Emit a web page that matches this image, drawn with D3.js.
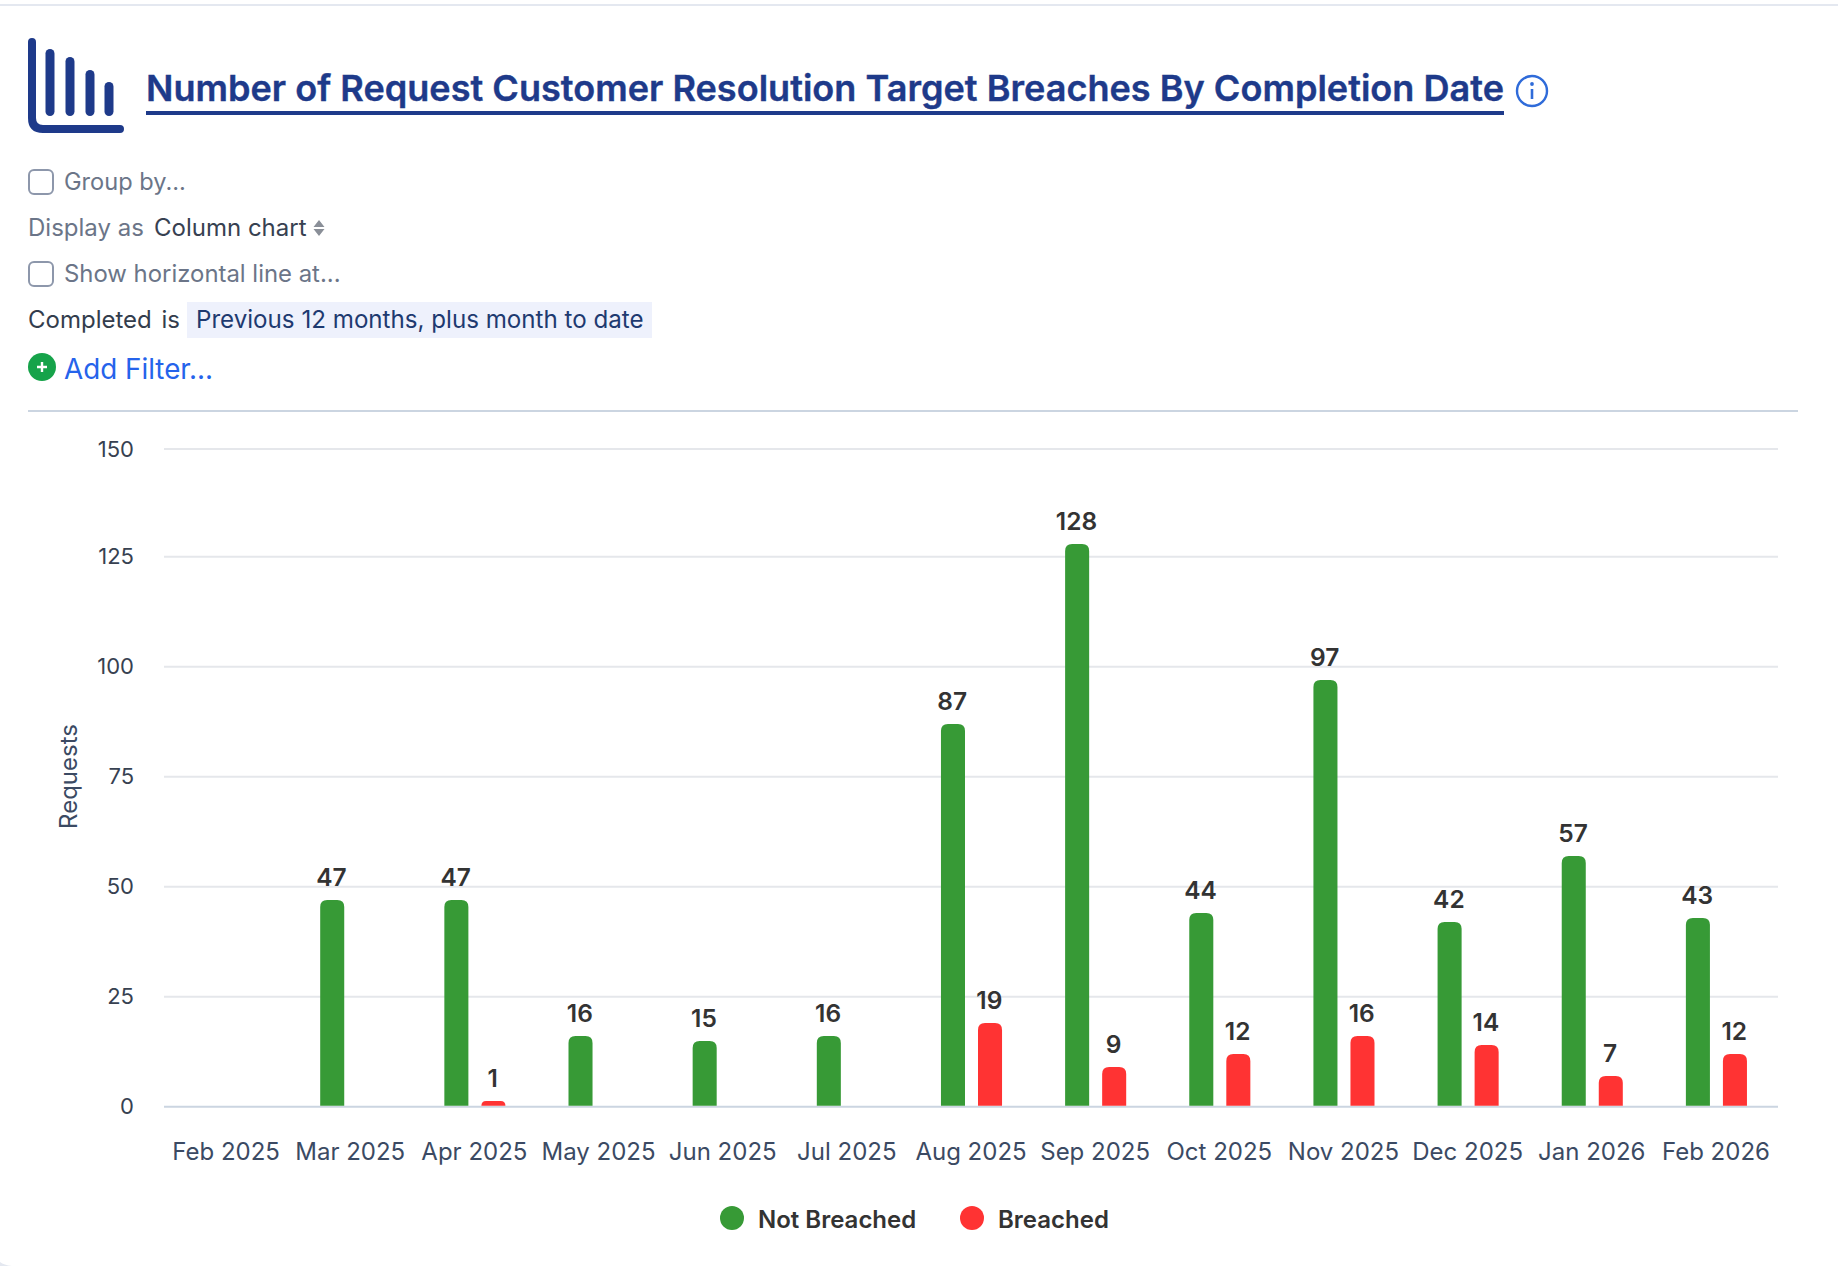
<!DOCTYPE html>
<html>
<head>
<meta charset="utf-8">
<title>Number of Request Customer Resolution Target Breaches By Completion Date</title>
<script src="https://cdn.jsdelivr.net/npm/d3@7"></script>
<style>
  html, body { margin: 0; padding: 0; background: #fff; overflow: hidden; }
  text { font-family: Inter, "Noto Sans", sans-serif; }
</style>
</head>
<body>
<svg id="chart" width="1838" height="1266"></svg>
<script>
// chart data
var title = "Number of Request Customer Resolution Target Breaches By Completion Date";
var months = ["Feb 2025", "Mar 2025", "Apr 2025", "May 2025", "Jun 2025", "Jul 2025", "Aug 2025",
              "Sep 2025", "Oct 2025", "Nov 2025", "Dec 2025", "Jan 2026", "Feb 2026"];
var notBreached = [0, 47, 47, 16, 15, 16, 87, 128, 44, 97, 42, 57, 43];
var breached = [0, 0, 1, 0, 0, 0, 19, 9, 12, 16, 14, 7, 12];
var seriesNames = ["Not Breached", "Breached"];
var yTicks = [0, 25, 50, 75, 100, 125, 150];

var color_green = "#379a36";
var color_red = "#ff3333";
var color_title = "#1e3a8a";

var svg = d3.select("#chart");

// page furniture above the chart
svg.append("rect").attr("x", 0).attr("y", 4).attr("width", 1838).attr("height", 2).attr("fill", "#e4e8f0");

// corner of the card, bottom left
svg.append("path").attr("d", "M0,1262 Q4,1265 12,1266 L0,1266 Z").attr("fill", "#e4e8f0");

// chart icon
var icon = svg.append("g").attr("fill", "none").attr("stroke", color_title).attr("stroke-linecap", "round");
icon.append("path")
    .attr("d", "M32,42 L32,118 Q32,129 43,129 L120,129")
    .attr("stroke-width", 8);
[[50, 53.5], [70, 61.5], [90, 74.5], [109, 86.5]].forEach(function(b) {
    icon.append("line").attr("x1", b[0]).attr("x2", b[0]).attr("y1", b[1]).attr("y2", 111.5).attr("stroke-width", 9);
});

// title
svg.append("text").attr("x", 146).attr("y", 100.5)
    .attr("font-size", 36).attr("font-weight", 600).attr("fill", color_title)
    .attr("stroke", color_title).attr("stroke-width", 0.4)
    .attr("textLength", 1358).attr("lengthAdjust", "spacingAndGlyphs")
    .text(title);
svg.append("rect").attr("x", 146).attr("y", 111).attr("width", 1358).attr("height", 4).attr("fill", color_title);

// info icon
var info = svg.append("g").attr("transform", "translate(1532,91)");
info.append("circle").attr("r", 15).attr("fill", "none").attr("stroke", "#2f6bd9").attr("stroke-width", 2.4);
info.append("circle").attr("cy", -7).attr("r", 1.9).attr("fill", "#2f6bd9");
info.append("line").attr("y1", -2).attr("y2", 8).attr("stroke", "#2f6bd9").attr("stroke-width", 2.6);

// option rows
function label(x, y, str, fill, size) {
    return svg.append("text").attr("x", x).attr("y", y)
        .attr("font-size", size || 24).attr("fill", fill).text(str);
}
function checkbox(y) {
    svg.append("rect").attr("x", 29).attr("y", y).attr("width", 24).attr("height", 24).attr("rx", 5)
        .attr("fill", "#fff").attr("stroke", "#8d97ab").attr("stroke-width", 2);
}

checkbox(170);
label(64, 190, "Group by...", "#6b7588", 23.6);
label(28, 236, "Display as", "#6b7588");
label(154, 236, "Column chart", "#374151");
svg.append("path").attr("d", "M319,220 l5.5,7 h-11 Z M319,236 l5.5,-7 h-11 Z").attr("fill", "#8a8f98");
checkbox(262);
label(64, 282, "Show horizontal line at...", "#6b7588", 23.9);
label(28, 328, "Completed", "#333d4d");
label(161.5, 328, "is", "#333d4d");
svg.append("rect").attr("x", 187).attr("y", 302).attr("width", 465).attr("height", 36).attr("fill", "#eef1fc");
label(196, 328, "Previous 12 months, plus month to date", "#1e3a70", 24.15);

svg.append("circle").attr("cx", 42).attr("cy", 367).attr("r", 14).attr("fill", "#16a34a");
svg.append("path").attr("d", "M37,367 h10 M42,362 v10").attr("stroke", "#fff").attr("stroke-width", 2.4);
label(64, 379, "Add Filter...", "#2563eb", 27.8);

svg.append("rect").attr("x", 28).attr("y", 410).attr("width", 1770).attr("height", 2).attr("fill", "#cbd5e1");

// scales
var plot = {left: 164, right: 1778, top: 449, bottom: 1106.7};

var x0 = d3.scaleBand().domain(months).range([plot.left, plot.right]).paddingInner(0.5).paddingOuter(0.25);
var x1 = d3.scaleBand().domain(seriesNames).range([1, x0.bandwidth()]).paddingInner(0.351);
// the top grid step in the picture is a little shorter than the others
var y = d3.scaleLinear().domain([0, 125, 150]).range([plot.bottom, 556.7, plot.top]);

// grid
svg.append("g").selectAll("line").data(yTicks).join("line")
    .attr("x1", plot.left).attr("x2", plot.right)
    .attr("y1", function(d) { return y(d); }).attr("y2", function(d) { return y(d); })
    .attr("stroke", function(d) { return d == 0 ? "#cbd5e1" : "#e5e7eb"; })
    .attr("stroke-width", 2);

// axes, the domain and tick lines are hidden, only labels stay
var yAxis = svg.append("g").attr("transform", "translate(" + (plot.left - 30) + ",0)")
    .call(d3.axisLeft(y).tickValues(yTicks).tickSize(0).tickPadding(0));
yAxis.select(".domain").remove();
yAxis.selectAll("text").attr("font-size", 22).attr("fill", "#374151").attr("font-family", null);

var xAxis = svg.append("g").attr("transform", "translate(0," + plot.bottom + ")")
    .call(d3.axisBottom(x0).tickSize(0).tickPadding(36));
xAxis.select(".domain").remove();
xAxis.selectAll("text").attr("font-size", 24).attr("fill", "#3b4a63").attr("font-family", null);

svg.append("text")
    .attr("transform", "translate(77,776.5) rotate(-90)")
    .attr("text-anchor", "middle").attr("font-size", 24).attr("fill", "#3b4a63")
    .text("Requests");

// bars
function topRounded(px, py, w, h) {
    var r = Math.min(7, h, w / 2);
    return "M" + px + "," + (py + h) + "V" + (py + r) + "Q" + px + "," + py + " " + (px + r) + "," + py +
        "H" + (px + w - r) + "Q" + (px + w) + "," + py + " " + (px + w) + "," + (py + r) + "V" + (py + h) + "Z";
}

var min_bar = 6;
function barTop(d) {
    return Math.round(plot.bottom - Math.max(plot.bottom - y(d.value), min_bar));
}

var bars = [];
months.forEach(function(m, i) {
    bars.push({month: m, series: seriesNames[0], value: notBreached[i], color: color_green});
    bars.push({month: m, series: seriesNames[1], value: breached[i], color: color_red});
});
bars = bars.filter(function(d) { return d.value > 0; });

svg.append("g").selectAll("path").data(bars).join("path")
    .attr("fill", function(d) { return d.color; })
    .attr("d", function(d) {
        return topRounded(x0(d.month) + x1(d.series), barTop(d), x1.bandwidth(), plot.bottom - 1 - barTop(d));
    });

svg.append("g").selectAll("text").data(bars).join("text")
    .attr("x", function(d) { return x0(d.month) + x1(d.series) + x1.bandwidth() / 2 - 0.7; })
    .attr("y", function(d) { return barTop(d) - 14; })
    .attr("text-anchor", "middle").attr("font-size", 24.5).attr("font-weight", 600).attr("fill", "#333")
    .text(function(d) { return d.value; });

// legend
var legendX = [732, 972];
var legendText = [758, 998];
var legendColors = [color_green, color_red];
var legend = svg.append("g").selectAll("g").data(seriesNames).join("g");
legend.append("circle").attr("cx", function(d, i) { return legendX[i]; }).attr("cy", 1218).attr("r", 12)
    .attr("fill", function(d, i) { return legendColors[i]; });
legend.append("text").attr("x", function(d, i) { return legendText[i]; }).attr("y", 1228)
    .attr("font-size", 24).attr("font-weight", 600).attr("fill", "#333")
    .text(function(d) { return d; });
</script>
</body>
</html>
